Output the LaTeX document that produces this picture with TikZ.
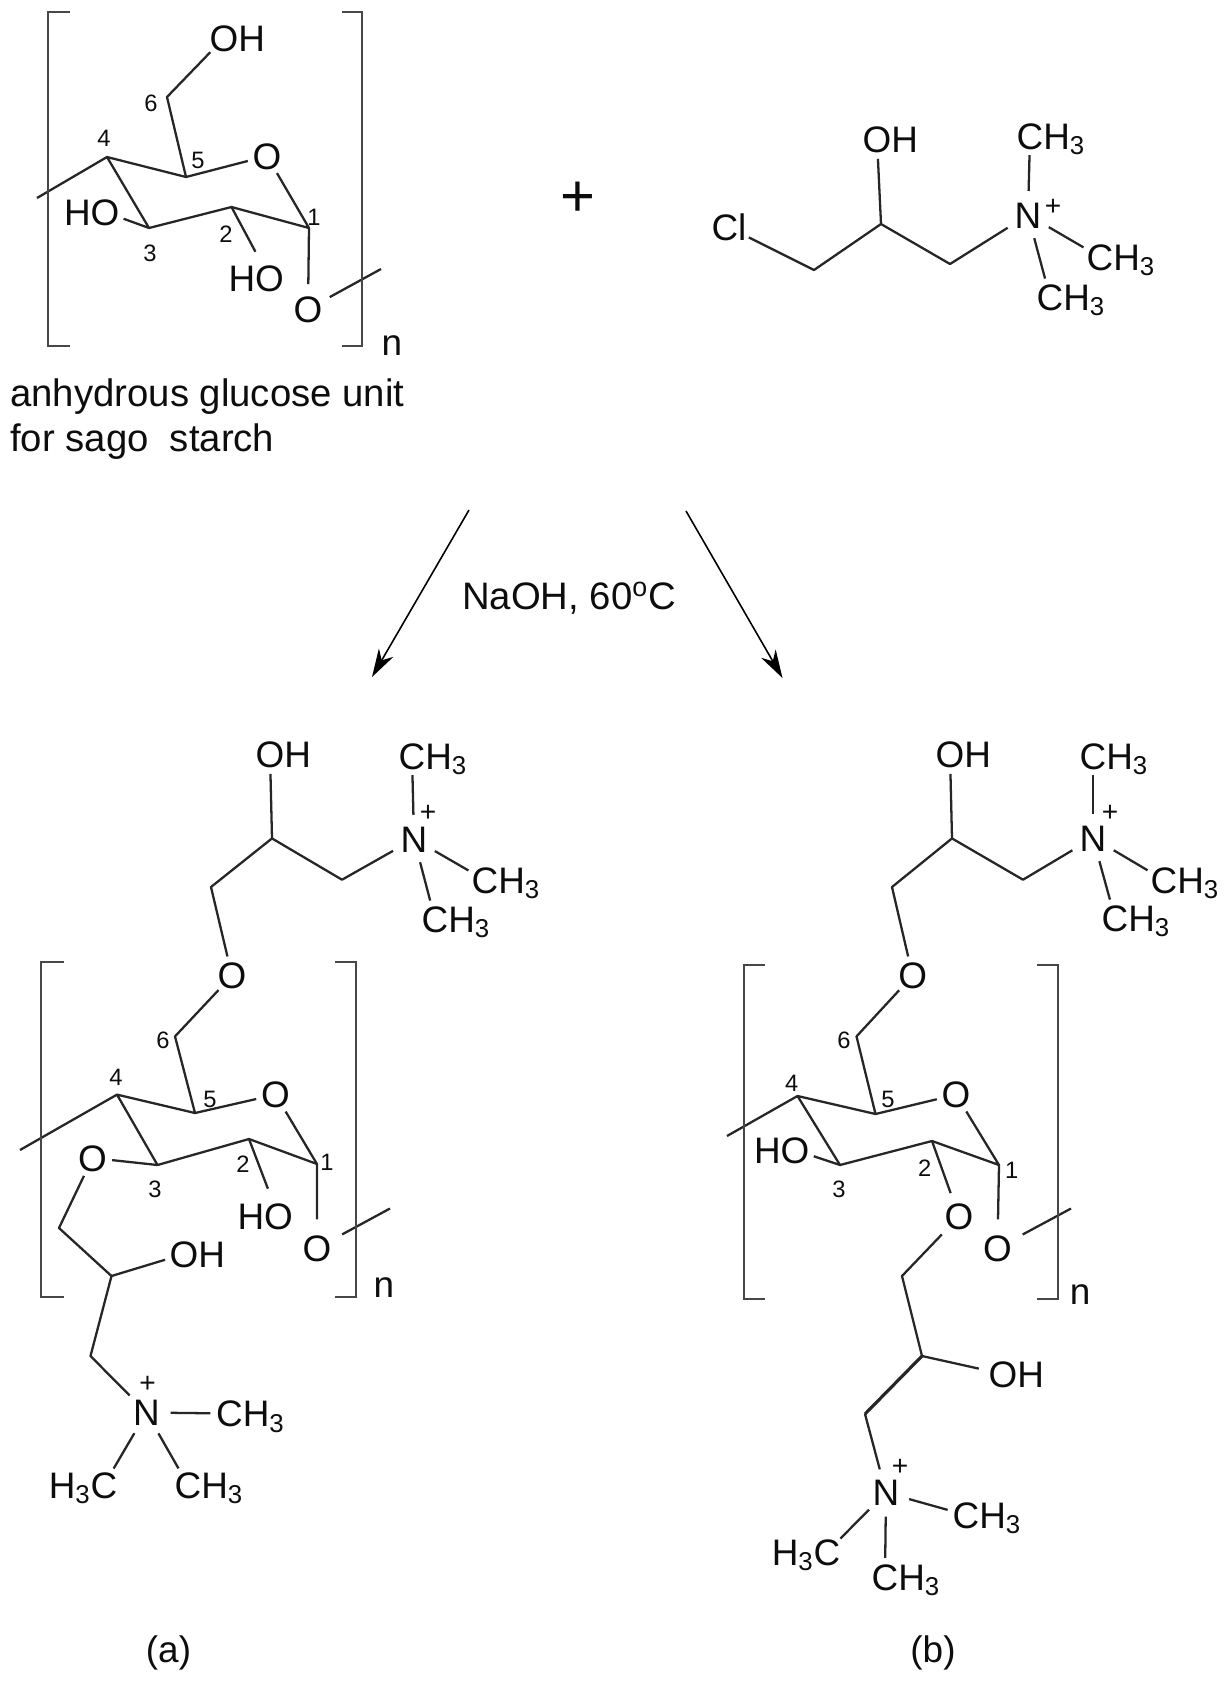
\documentclass[tikz,border=0pt]{standalone}
\usepackage{fontspec}
\setmainfont{Liberation Sans}
\usetikzlibrary{arrows.meta}
\definecolor{cor_line}{gray}{0.15}
\definecolor{cor_text}{gray}{0.05}

\begin{document}
\begin{tikzpicture}[x=0.02cm,y=-0.02cm]
        \tikzset{
            atom/.style={
                circle,
                inner sep=#1,
                text=cor_text,
                text height=15pt,
                text depth=0pt,
                font=\fontsize{21}{25}\selectfont
            },
            atom/.default=0pt,
            num/.style={text=cor_text, inner sep=0pt, font=\fontsize{13.5}{16}\selectfont},
            chg/.style={text=cor_text, inner sep=0pt, font=\fontsize{16}{18}\selectfont},
            txt/.style={text=cor_text, inner sep=0pt, font=\fontsize{21.8}{26}\selectfont},
            sub/.style={text=cor_text, inner sep=0pt, font=\fontsize{21}{25}\selectfont},
            bond/.style={draw=cor_line, line width=1.3pt, line join=round},
            seta/.style={draw=black, line width=0.9pt, -{Stealth[length=16pt,width=9.5pt,inset=5pt]}},
            brk/.style={draw=cor_line!85, line width=1.4pt}
        }
        \useasboundingbox (0,0) rectangle (1228,1681);

        %AMIDO
        \coordinate (c1s) at (309,228);
        \coordinate (c2s) at (231.5,207);
        \coordinate (c3s) at (149,228);
        \coordinate (c4s) at (107,157);
        \coordinate (c5s) at (186,177);
        \coordinate (c6s) at (167,97);
        \coordinate (t1s) at (37,198);
        \coordinate (t2s) at (381,269);
        \node[atom] (o5s) at (267,156) {O};
        \node[atom] (o6s) at (224,38) {O\rlap{H}};
        \node[atom] (o3s) at (105,212) {\llap{H}O};
        \node[atom=4pt] (o2s) at (269.5,278) {\llap{H}O};
        \node[atom=2pt] (o1s) at (308,309) {O};
        \draw[bond] (t1s) -- (c4s) -- (c5s) -- (o5s) -- (c1s) -- (c2s) -- (c3s) -- (c4s);
        \draw[bond] (c5s) -- (c6s) -- (o6s);
        \draw[bond] (c3s) -- (o3s);
        \draw[bond] (c2s) -- (o2s);
        \draw[bond] (c1s) -- (o1s) -- (t2s);
        \draw[brk] (70,12) -- (48,12) -- (48,346) -- (70,346);
        \draw[brk] (342,12) -- (362,12) -- (362,346) -- (342,346);
        \node[sub] (ns) at (392,346) {n};
        \node[num] (n1s) at (314,217) {1};
        \node[num] (n2s) at (226,234) {2};
        \node[num] (n3s) at (150,253) {3};
        \node[num] (n4s) at (104,138) {4};
        \node[num] (n5s) at (198,160) {5};
        \node[num] (n6s) at (151,103) {6};
        \node[txt, anchor=base west] (cap1) at (10,406) {anhydrous glucose unit};
        \node[txt, anchor=base west] (cap2) at (10,451) {for sago\ \ starch};

        \node[text=cor_text, inner sep=0pt, font=\fontsize{34}{36}\selectfont] (soma) at (578,199) {+};

        %REAGENTE
        \coordinate (c1r) at (814,270);
        \coordinate (c2r) at (881,224);
        \coordinate (c3r) at (950,264);
        \node[atom] (clr) at (729,227.5) {Cl};
        \node[atom] (ohr) at (877,139) {O\rlap{H}};
        \node[atom=2pt] (nr) at (1028,215) {N};
        \node[chg] (pr) at (1053,207) {+};
        \node[atom] (m1r) at (1030,136) {C\rlap{H\textsubscript{3}}};
        \node[atom] (m2r) at (1100,257) {C\rlap{H\textsubscript{3}}};
        \node[atom] (m3r) at (1050,297) {C\rlap{H\textsubscript{3}}};
        \draw[bond] (clr) -- (c1r) -- (c2r) -- (c3r) -- (nr);
        \draw[bond] (c2r) -- (ohr);
        \draw[bond] (nr) -- (m1r);
        \draw[bond] (nr) -- (m2r);
        \draw[bond] (nr) -- (m3r);

        %SETAS
        \coordinate (s1) at (469,510);
        \coordinate (e1) at (372,677);
        \coordinate (s2) at (686,511);
        \coordinate (e2) at (782.5,678);
        \draw[seta] (s1) -- (e1);
        \draw[seta] (s2) -- (e2);
        \node[txt] (cond) at (569,598) {NaOH, 60\textsuperscript{o}C};

        %PRODUTO A
        \coordinate (c1a) at (317,1164);
        \coordinate (c2a) at (249,1139);
        \coordinate (c3a) at (157.5,1165);
        \coordinate (c4a) at (117,1094.6);
        \coordinate (c5a) at (195,1113);
        \coordinate (c6a) at (175,1036.4);
        \coordinate (t1a) at (20,1150);
        \coordinate (t2a) at (390,1208.5);
        \coordinate (u1a) at (272,838.4);
        \coordinate (u2a) at (342,879.7);
        \coordinate (u3a) at (211,887);
        \coordinate (v1a) at (59,1228);
        \coordinate (v2a) at (111.5,1276);
        \coordinate (v3a) at (90.5,1356);
        \node[atom] (o5a) at (275.5,1094.6) {O};
        \node[atom] (o6a) at (232,975.7) {O};
        \node[atom] (o3a) at (92.5,1158) {O};
        \node[atom=4pt] (o2a) at (278.5,1216.5) {\llap{H}O};
        \node[atom=3.5pt] (o1a) at (317,1248) {O};
        \node[atom] (oua) at (270,754) {O\rlap{H}};
        \node[atom] (ova) at (184,1254) {O\rlap{H}};
        \node[atom=2pt] (nua) at (414,839) {N};
        \node[chg] (pua) at (428,813.5) {+};
        \node[atom] (m1a) at (412,756) {C\rlap{H\textsubscript{3}}};
        \node[atom] (m2a) at (485,880) {C\rlap{H\textsubscript{3}}};
        \node[atom] (m3a) at (435,919) {C\rlap{H\textsubscript{3}}};
        \node[atom=2pt] (nva) at (146.5,1412.5) {N};
        \node[chg] (pva) at (147.6,1384) {+};
        \node[atom] (m4a) at (229.5,1413.5) {C\rlap{H\textsubscript{3}}};
        \node[atom] (m5a) at (104,1485) {\llap{H\textsubscript{3}}C};
        \node[atom] (m6a) at (188,1485) {C\rlap{H\textsubscript{3}}};
        \draw[bond] (t1a) -- (c4a) -- (c5a) -- (o5a) -- (c1a) -- (c2a) -- (c3a) -- (c4a);
        \draw[bond] (c5a) -- (c6a) -- (o6a) -- (u3a) -- (u1a) -- (u2a) -- (nua);
        \draw[bond] (u1a) -- (oua);
        \draw[bond] (nua) -- (m1a);
        \draw[bond] (nua) -- (m2a);
        \draw[bond] (nua) -- (m3a);
        \draw[bond] (c3a) -- (o3a) -- (v1a) -- (v2a) -- (v3a) -- (nva);
        \draw[bond] (v2a) -- (ova);
        \draw[bond] (nva) -- (m4a);
        \draw[bond] (nva) -- (m5a);
        \draw[bond] (nva) -- (m6a);
        \draw[bond] (c2a) -- (o2a);
        \draw[bond] (c1a) -- (o1a) -- (t2a);
        \draw[brk] (64,962) -- (41,962) -- (41,1297) -- (64,1297);
        \draw[brk] (335,962) -- (356,962) -- (356,1297) -- (335,1297);
        \node[sub] (na) at (384,1288) {n};
        \node[num] (n1a) at (327,1162) {1};
        \node[num] (n2a) at (243,1164) {2};
        \node[num] (n3a) at (155,1189.6) {3};
        \node[num] (n4a) at (116,1077) {4};
        \node[num] (n5a) at (210,1099.5) {5};
        \node[num] (n6a) at (163,1040.5) {6};
        \node[sub] (capa) at (168.5,1653) {(a)};

        %PRODUTO B
        \coordinate (c1b) at (999,1165);
        \coordinate (c2b) at (932,1141);
        \coordinate (c3b) at (840,1165);
        \coordinate (c4b) at (797.5,1096);
        \coordinate (c5b) at (875.5,1114);
        \coordinate (c6b) at (856.5,1036.4);
        \coordinate (t1b) at (727,1136);
        \coordinate (t2b) at (1071,1208.5);
        \coordinate (u1b) at (952,838.4);
        \coordinate (u2b) at (1023,879.7);
        \coordinate (u3b) at (892,887);
        \coordinate (v1b) at (902,1276);
        \coordinate (v2b) at (922,1356);
        \coordinate (v3b) at (865,1414);
        \node[atom] (o5b) at (956,1094.6) {O};
        \node[atom] (o6b) at (912.6,975.7) {O};
        \node[atom] (o3b) at (795,1150) {\llap{H}O};
        \node[atom=2pt] (o2b) at (959,1216.5) {O};
        \node[atom=3.5pt] (o1b) at (997.5,1248) {O};
        \node[atom] (oub) at (950,754) {O\rlap{H}};
        \node[atom=2pt] (ovb) at (1003,1374) {O\rlap{H}};
        \node[atom=2pt] (nub) at (1093,838) {N};
        \node[chg] (pub) at (1110,813.5) {+};
        \node[atom] (m1b) at (1093,756) {C\rlap{H\textsubscript{3}}};
        \node[atom] (m2b) at (1164,880) {C\rlap{H\textsubscript{3}}};
        \node[atom] (m3b) at (1115,918) {C\rlap{H\textsubscript{3}}};
        \node[atom=2pt] (nvb) at (886,1492.6) {N};
        \node[chg] (pvb) at (900,1467) {+};
        \node[atom] (m4b) at (966,1515) {C\rlap{H\textsubscript{3}}};
        \node[atom] (m5b) at (827,1552) {\llap{H\textsubscript{3}}C};
        \node[atom] (m6b) at (885,1577) {C\rlap{H\textsubscript{3}}};
        \draw[bond] (t1b) -- (c4b) -- (c5b) -- (o5b) -- (c1b) -- (c2b) -- (c3b) -- (c4b);
        \draw[bond] (c5b) -- (c6b) -- (o6b) -- (u3b) -- (u1b) -- (u2b) -- (nub);
        \draw[bond] (u1b) -- (oub);
        \draw[bond] (nub) -- (m1b);
        \draw[bond] (nub) -- (m2b);
        \draw[bond] (nub) -- (m3b);
        \draw[bond] (c3b) -- (o3b);
        \draw[bond] (c2b) -- (o2b) -- (v1b) -- (v2b);
        \draw[bond, line width=1.8pt] (v2b) -- (v3b);
        \draw[bond] (v3b) -- (nvb);
        \draw[bond] (v2b) -- (ovb);
        \draw[bond] (nvb) -- (m4b);
        \draw[bond] (nvb) -- (m5b);
        \draw[bond] (nvb) -- (m6b);
        \draw[bond] (c1b) -- (o1b) -- (t2b);
        \draw[brk] (765,965) -- (744,965) -- (744,1299) -- (765,1299);
        \draw[brk] (1037,965) -- (1058,965) -- (1058,1299) -- (1037,1299);
        \node[sub] (nb) at (1080,1295) {n};
        \node[num] (n1b) at (1011.6,1170) {1};
        \node[num] (n2b) at (924.6,1168) {2};
        \node[num] (n3b) at (839,1189.6) {3};
        \node[num] (n4b) at (791.6,1083.5) {4};
        \node[num] (n5b) at (888,1099.5) {5};
        \node[num] (n6b) at (844,1040.5) {6};
        \node[sub] (capb) at (933,1653) {(b)};

\end{tikzpicture}
\end{document}
